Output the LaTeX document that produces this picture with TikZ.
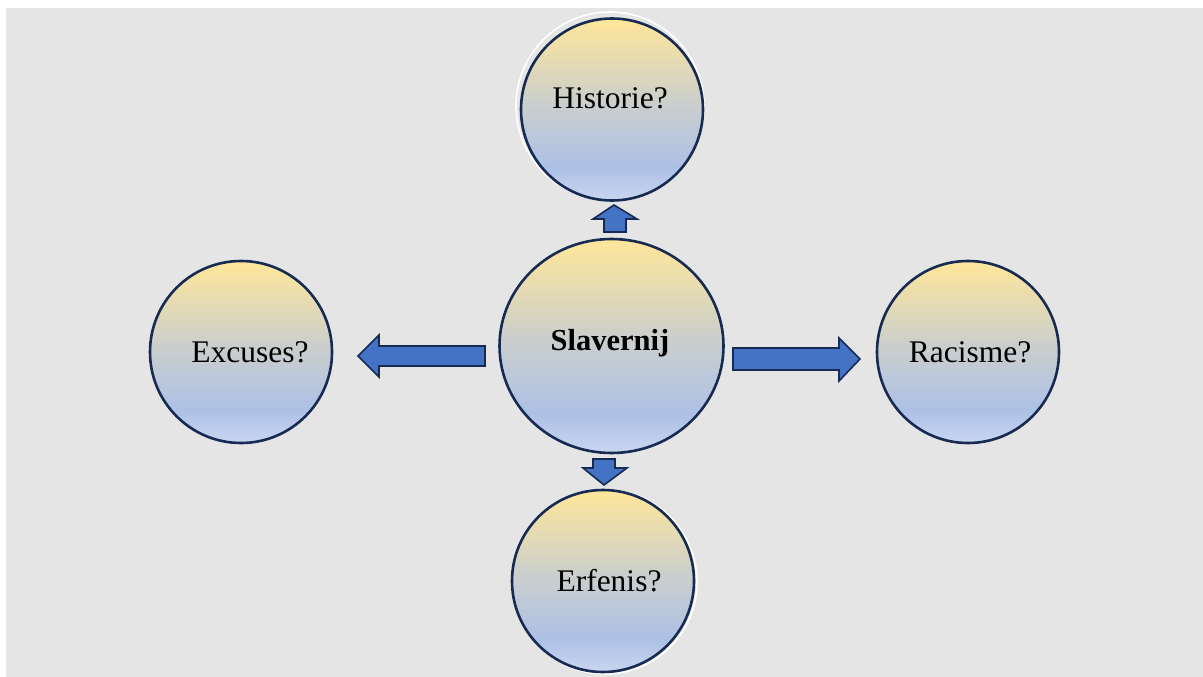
\documentclass[tikz,border=0pt]{standalone}
\usepackage{fontspec}
\usetikzlibrary{shapes.geometric}
\setmainfont{Liberation Serif}
\definecolor{bg}{HTML}{E5E5E5}
\definecolor{ctop}{HTML}{FFE699}
\definecolor{cmid}{HTML}{CBCFCC}
\definecolor{cblue}{HTML}{ADC0E6}
\definecolor{cbot}{HTML}{C9D6F0}
\definecolor{navy}{HTML}{172B52}
\definecolor{arrowblue}{HTML}{4472C4}
\pgfdeclareverticalshading{bubble}{100bp}{color(0bp)=(cbot); color(25bp)=(cbot); color(34bp)=(cblue); color(52bp)=(cmid); color(75bp)=(ctop); color(100bp)=(ctop)}
\tikzset{
  bubblestyle/.style={ellipse, draw=navy, line width=2.6pt, shading=bubble, inner sep=0pt, minimum width=#1, minimum height=#1},
  glow/.style={draw=white, line width=1.6pt},
  blockarrow/.style={draw=navy, line width=1.6pt, fill=arrowblue, line join=miter},
  lbl/.style={anchor=base, font=\fontsize{31.5}{36}\selectfont, inner sep=0pt}
}
\begin{document}
\begin{tikzpicture}[x=1pt,y=-1pt]
\useasboundingbox (0,0) rectangle (1203,677);
\fill[bg] (6,8) rectangle (1203,677);
% glows
\draw[glow] (610,106) circle (94);
\draw[glow] (605,582) circle (92);
% circles
\node[bubblestyle=182pt] (hist) at (612,109.5) {};
\node[bubblestyle=182pt, minimum width=224pt, minimum height=214pt] (slav) at (611.5,346) {};
\node[bubblestyle=182pt] (exc) at (241,352) {};
\node[bubblestyle=182pt] (rac) at (968,352) {};
\node[bubblestyle=182pt] (erf) at (603,581) {};
% labels
\node[lbl] (thist) at (610,109) {Historie?};
\node[lbl, font=\fontsize{30.5}{35}\selectfont\bfseries] (tslav) at (610,350) {Slavernij};
\node[lbl] (texc) at (250,362) {Excuses?};
\node[lbl] (trac) at (970,362) {Racisme?};
\node[lbl] (terf) at (609,591) {Erfenis?};
% block arrows
\draw[blockarrow] (604,232) -- (604,219) -- (593,219) -- (614,205) -- (637,219) -- (626,219) -- (626,232) -- cycle;
\draw[blockarrow] (485,346) -- (379,346) -- (379,335) -- (358,356) -- (379,377) -- (379,366) -- (485,366) -- cycle;
\draw[blockarrow] (733,348) -- (839,348) -- (839,338) -- (860,359) -- (839,381) -- (839,370) -- (733,370) -- cycle;
\draw[blockarrow] (593,459) -- (615,459) -- (615,468) -- (627,468) -- (604,485) -- (583,468) -- (593,468) -- cycle;
\end{tikzpicture}
\end{document}
